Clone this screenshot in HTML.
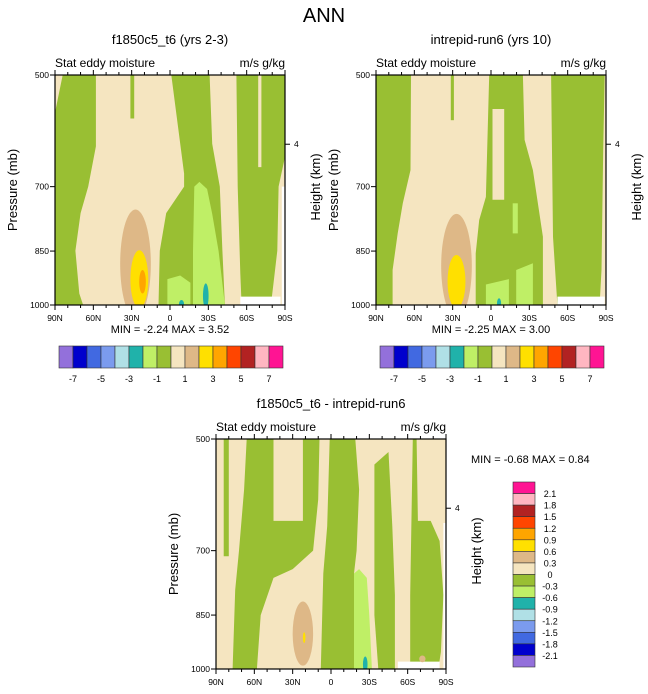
<!DOCTYPE html>
<html><head><meta charset="utf-8">
<style>
html,body{margin:0;padding:0;background:#fff;}
svg{display:block;font-family:"Liberation Sans",Arial,sans-serif;}
</style></head>
<body>
<svg id="c" width="648" height="694" viewBox="0 0 648 694" xmlns="http://www.w3.org/2000/svg">
<text x="324" y="22" font-size="20" text-anchor="middle">ANN</text>
</svg>
<script>
// ---- data ----
const latTicks = [90,60,30,0,-30,-60,-90];
const latTickLabels = ["90N","60N","30N","0","30S","60S","90S"];
const presTicks = [500,700,850,1000];
const presTickLabels = ["500","700","850","1000"];
const topLevels = ["-7","-5","-3","-1","1","3","5","7"];
const diffLevels = ["2.1","1.8","1.5","1.2","0.9","0.6","0.3","0","-0.3","-0.6","-0.9","-1.2","-1.5","-1.8","-2.1"];
const topColors = ["#9370DB","#0000CD","#4169E1","#7B9BEE","#B0E0E6","#20B2AA","#BFEF66","#99BF33","#F5E5C0","#DEB887","#FFE000","#FFA500","#FF4500","#B22222","#FFB6C1","#FF1493"];
const C = {g:"#99BF33", lg:"#BFEF66", te:"#20B2AA", bw:"#DEB887", go:"#FFE000", or:"#FFA500", be:"#F5E5C0", w:"#FFFFFF"};

// panel 1 polygons [color, [[lat,p],...]]
const p1Polys = [
 ["g", [[84,500],[58,500],[58,620],[64,700],[70,758],[74,849],[71,966],[68,1000],[90,1000],[90,560]]],
 ["g", [[31,500],[28,500],[28,570],[31,570]]],
 ["g", [[-1,500],[-31,500],[-33,615],[-39,700],[-41,849],[-43,1000],[9,1000],[8,849],[3,758],[-11,700],[-11,673]]],
 ["g", [[-52,500],[-90,500],[-90,640],[-85,700],[-84,849],[-81,937],[-79,1000],[-56,1000],[-55,909],[-53,700]]],
 ["be",[[-69,500],[-71.5,500],[-71.5,660],[-69,660]]],
 ["lg",[[-19,700],[-23,690],[-29,705],[-33,760],[-38,850],[-43,1000],[-18,1000],[-18,850]]],
 ["lg",[[2,925],[-8,915],[-16,935],[-16,1000],[2,1000]]],
 ["w", [[-87.5,700],[-90,700],[-90,1000],[-87.5,1000]]],
 ["w", [[-55,975],[-86.5,975],[-86.5,1000],[-55,1000]]]
];
// blobs [color, latCenter, latHalfWidth, pTop, pBottom]
const p1Blobs = [
 ["bw",27,12,750,1040],["go",24,7,848,1010],["or",21.5,2.6,900,966],
 ["te",-28,2.2,937,1010],["te",-9,2,985,1010]
];
const p2Polys = [
 ["g", [[90,500],[62.6,500],[63,666],[69,736],[73,806],[77,900],[77,1000],[90,1000]]],
 ["g", [[31.5,500],[29,500],[29,573],[31.5,573]]],
 ["g", [[1.4,500],[-25,500],[-26.3,608],[-32.8,666],[-40.6,814],[-40.6,1000],[12,1000],[12,856],[9.2,774],[4,722]]],
 ["be",[[-1.2,554],[-10.3,554],[-10.3,728],[-1.2,728]]],
 ["g", [[-47,500],[-89,500],[-87.8,627],[-86.5,900],[-85,1000],[-52,1000],[-51,946],[-48.5,814]]],
 ["lg",[[-17,736],[-21,736],[-21,806],[-17,806]]],
 ["lg",[[4,940],[-14,925],[-14,1000],[4,1000]]],
 ["lg",[[-19.7,900],[-32.8,882],[-32.8,1000],[-19.7,1000]]],
 ["w", [[-52,975],[-89,975],[-89,1000],[-52,1000]]]
];
const p2Blobs = [
 ["bw",27,12,760,1040],["go",27,7,860,1010],["te",-6.3,1.6,980,1010]
];
const p3Polys = [
 ["g", [[84,500],[80,500],[80,712],[84,712]]],
 ["g", [[66,500],[45,500],[45,640],[22,640],[22,500],[9,500],[10,600],[14,700],[30,740],[45,760],[55,850],[58,1000],[77,1000],[75,788],[72,700],[68,582]]],
 ["g", [[1,500],[-19,500],[-22,582],[-20,700],[-18,750],[-18,1000],[8,1000],[6,750],[3,650]]],
 ["lg",[[-18,750],[-22,740],[-28,760],[-30,850],[-32,1000],[-18,1000]]],
 ["g", [[-34,540],[-45,520],[-48,650],[-50,800],[-50,1000],[-37,1000],[-34,850]]],
 ["g", [[-64,500],[-67,500],[-68,640],[-78,640],[-85,680],[-88,800],[-86,950],[-84,1000],[-62,1000],[-62,800]]],
 ["w", [[-88,644],[-90,644],[-90,1000],[-88,1000]]],
 ["w", [[-52.3,978],[-85,978],[-85,1000],[-52.3,1000]]]
];
const p3Blobs = [
 ["bw",22,8,816,990],["go",21,1,895,925],["te",-26.8,1.8,963,1010],["bw",-71.5,2.5,960,980]
];

// ---- drawing ----
const svg = document.getElementById('c');
const NS = "http://www.w3.org/2000/svg";
function mk(tag, attrs, parent){const e=document.createElementNS(NS,tag);for(const k in attrs)e.setAttribute(k,attrs[k]);(parent||svg).appendChild(e);return e;}
function txt(x,y,s,size,anchor,parent){const t=mk('text',{x:x,y:y,'font-size':size,'text-anchor':anchor||'start'},parent);t.textContent=s;return t;}

function panel(id, x0, y0, polys, blobs, title, minmax, mmPos){
  const W=230,H=230;
  const g = mk('g',{});
  
  
  const xOf = lat => x0 + (90-lat)/180*W;
  const yOf = p => y0 + Math.log(p/500)/Math.log(2)*H;
  const clipId = id+'-clip';
  const cp = mk('clipPath',{id:clipId},g); mk('rect',{x:x0,y:y0,width:W,height:H},cp);
  const area = mk('g',{'clip-path':'url(#'+clipId+')'},g);
  const bg = mk('rect',{x:x0,y:y0,width:W,height:H,fill:C.be},area);
  
  
  polys.forEach(pl=>{
    const pts = pl[1].map(q=>xOf(q[0]).toFixed(1)+','+yOf(q[1]).toFixed(1)).join(' ');
    const e = mk('polygon',{points:pts,fill:C[pl[0]]},area);
    
    
  });
  blobs.forEach(b=>{
    const cx=xOf(b[1]), rx=Math.abs(xOf(b[1]+b[2])-cx), yt=yOf(b[3]), yb=yOf(b[4]);
    const e = mk('ellipse',{cx:cx,cy:(yt+yb)/2,rx:rx,ry:(yb-yt)/2,fill:C[b[0]]},area);
    
    
  });
  mk('rect',{x:x0,y:y0,width:W,height:H,fill:'none',stroke:'#000','stroke-width':1.2},g);
  // x ticks
  for(let lat=90;lat>=-90;lat-=10){
    const major = lat%30===0, len = major?5:3, x=xOf(lat);
    mk('line',{x1:x,x2:x,y1:y0+H,y2:y0+H+len,stroke:'#000','stroke-width':1},g);
    mk('line',{x1:x,x2:x,y1:y0,y2:y0-len,stroke:'#000','stroke-width':1},g);
  }
  latTicks.forEach((lat,i)=>{const t=txt(xOf(lat),y0+H+16,latTickLabels[i],8.5,'middle',g);
    });
  presTicks.forEach((p,i)=>{const y=yOf(p);
    mk('line',{x1:x0-5,x2:x0,y1:y,y2:y,stroke:'#000','stroke-width':1},g);
    const t=txt(x0-6,y+3,presTickLabels[i],8.5,'end',g);
    });
  // height axis tick (4 km ~ 616 mb)
  const yh = yOf(616);
  mk('line',{x1:x0+W,x2:x0+W+5,y1:yh,y2:yh,stroke:'#000','stroke-width':1},g);
  txt(x0+W+9,yh+3,"4",8.5,'start',g);
  const t1=txt(x0+W/2,y0-31,title,13,'middle',g);
  
  txt(x0,y0-8,"Stat eddy moisture",12,'start',g);
  txt(x0+W,y0-8,"m/s g/kg",12,'end',g);
  const yl=mk('text',{x:0,y:0,'font-size':13,'text-anchor':'middle',transform:'translate('+(x0-38)+','+(y0+H/2)+') rotate(-90)'},g);
  yl.textContent="Pressure (mb)";
  
  const hl=mk('text',{x:0,y:0,'font-size':13,'text-anchor':'middle',transform:'translate('+(x0+W+35)+','+(y0+H/2-3)+') rotate(-90)'},g);
  hl.textContent="Height (km)";
  
  const mm=txt(mmPos[0],mmPos[1],minmax,11,mmPos[2],g);
  
}

function hbar(id,x0,y0){
  const g=mk('g',{});
  
  
  const bw=14,bh=22;
  topColors.forEach((c,i)=>{mk('rect',{x:x0+i*bw,y:y0,width:bw,height:bh,fill:c,stroke:'#333','stroke-width':0.6},g);});
  topLevels.forEach((s,i)=>{txt(x0+(i*2+1)*bw,y0+36,s,9,'middle',g);});
}
function vbar(id,x0,y0){
  const g=mk('g',{});
  
  
  const bw=22,bh=185/16;
  const rev=topColors.slice().reverse();
  rev.forEach((c,i)=>{mk('rect',{x:x0,y:y0+i*bh,width:bw,height:bh,fill:c,stroke:'#333','stroke-width':0.6},g);});
  diffLevels.forEach((s,i)=>{txt(x0+37,y0+(i+1)*bh+3.5,s,9,'middle',g);});
}

panel('panel-model-a',55,75,p1Polys,p1Blobs,"f1850c5_t6 (yrs 2-3)","MIN =  -2.24  MAX =   3.52",[170,333,'middle']);
panel('panel-model-b',376,75,p2Polys,p2Blobs,"intrepid-run6 (yrs 10)","MIN =  -2.25  MAX =   3.00",[491,333,'middle']);
panel('panel-difference',216,439,p3Polys,p3Blobs,"f1850c5_t6 - intrepid-run6","MIN =  -0.68  MAX =   0.84",[471,463,'start']);
hbar('colorbar-model-a',59,346);
hbar('colorbar-model-b',380,346);
vbar('colorbar-difference',513,482);
</script>
</body></html>
